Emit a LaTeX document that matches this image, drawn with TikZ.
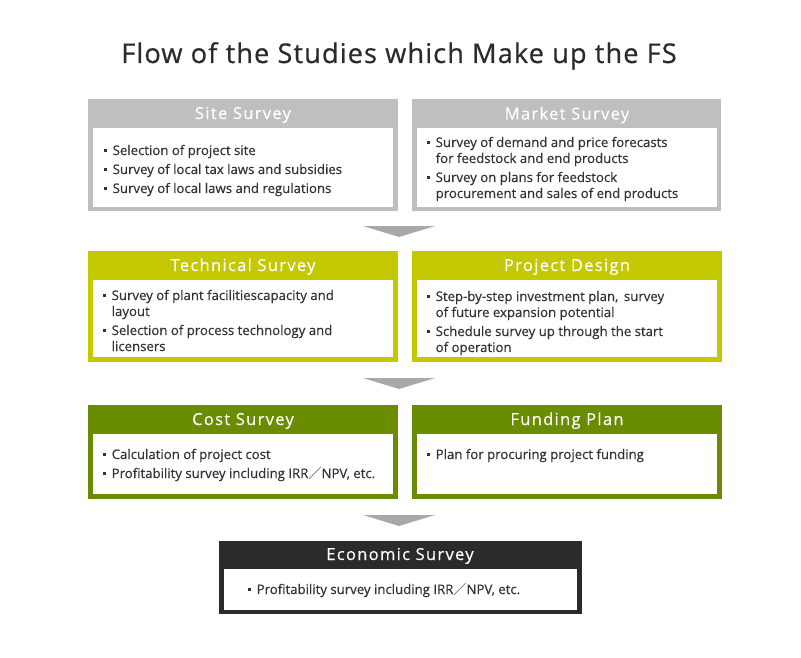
\documentclass[tikz,border=0pt]{standalone}
\usepackage{fontspec}
\setmainfont{Open Sans}[FakeBold=0.4]
\newfontfamily\hdfont[LetterSpace=8,FakeBold=0.4]{Open Sans}
\newfontfamily\ttlfont[LetterSpace=4,FakeBold=0.5]{Open Sans}
\newfontfamily\cjk{Noto Sans CJK JP}
\definecolor{txt}{HTML}{333333}
\definecolor{ttl}{HTML}{2B2B2B}
\definecolor{hgray}{HTML}{BFBFBF}
\definecolor{hlime}{HTML}{C4C800}
\definecolor{hgreen}{HTML}{6A8C00}
\definecolor{hdark}{HTML}{2B2B2B}
\definecolor{arrowc}{HTML}{A8A8A8}
\newcommand\bul{\makebox[8.5pt][l]{\raisebox{3pt}{\rule{2.7pt}{2.7pt}}}}
\newcommand\ind{\hspace*{8.5pt}}
\newcommand\slsh{{\cjk ／}}
\newcommand\bodytext[1]{\parbox[t]{290pt}{\fontsize{13.2}{16}\selectfont #1}}
\tikzset{
  outerbox/.style={fill=#1, draw=none, inner sep=0pt, anchor=north west},
  innerbox/.style={fill=white, draw=none, inner sep=0pt, anchor=north west},
  hdtext/.style={text=white, inner sep=0pt, anchor=base, font=\hdfont\fontsize{16.5}{18}\selectfont},
  bodynode/.style={inner sep=0pt, anchor=base west, text=txt},
  flowarrow/.style={fill=arrowc, draw=none}
}
\begin{document}
\begin{tikzpicture}[x=1pt,y=-1pt]
\fill[white] (0,0) rectangle (801,658);
\node[inner sep=0pt, anchor=base, text=ttl, font=\ttlfont\fontsize{27.2}{30}\selectfont] (title) at (399,63) {Flow of the Studies which Make up the FS};

% Row 1
\node[outerbox=hgray, minimum width=310pt, minimum height=112pt] (site) at (88,99) {};
\node[innerbox, minimum width=300pt, minimum height=79pt] (siteIn) at (93,128) {};
\node[hdtext] (siteH) at (243,119) {Site Survey};
\node[bodynode] (siteB) at (104,155) {\bodytext{\bul Selection of project site\\[3pt]\bul Survey of local tax laws and subsidies\\[3pt]\bul Survey of local laws and regulations}};

\node[outerbox=hgray, minimum width=309pt, minimum height=112pt] (market) at (412,99) {};
\node[innerbox, minimum width=300pt, minimum height=79pt] (marketIn) at (417,128) {};
\node[hdtext] (marketH) at (567,119.5) {Market Survey};
\node[bodynode] (marketB) at (427,147) {\bodytext{\bul Survey of demand and price forecasts\\\ind for feedstock and end products\\[3pt]\bul Survey on plans for feedstock\\\ind procurement and sales of end products}};

\fill[flowarrow] (363,226) -- (435,226) -- (399,237) -- cycle;

% Row 2
\node[outerbox=hlime, minimum width=310pt, minimum height=111pt] (tech) at (88,251) {};
\node[innerbox, minimum width=300pt, minimum height=77pt] (techIn) at (93,280) {};
\node[hdtext] (techH) at (243,271) {Technical Survey};
\node[bodynode] (techB) at (103,300) {\bodytext{\bul Survey of plant facilitiescapacity and\\\ind layout\\[3pt]\bul Selection of process technology and\\\ind licensers}};

\node[outerbox=hlime, minimum width=310pt, minimum height=111pt] (design) at (412,251) {};
\node[innerbox, minimum width=300pt, minimum height=77pt] (designIn) at (417,280) {};
\node[hdtext] (designH) at (567,271) {Project Design};
\node[bodynode] (designB) at (427,301) {\bodytext{\bul Step-by-step investment plan,\, survey\\\ind of future expansion potential\\[3pt]\bul Schedule survey up through the start\\\ind of operation}};

\fill[flowarrow] (363,378) -- (435,378) -- (399,389) -- cycle;

% Row 3
\node[outerbox=hgreen, minimum width=310pt, minimum height=94pt] (cost) at (88,405) {};
\node[innerbox, minimum width=300pt, minimum height=60pt] (costIn) at (93,434) {};
\node[hdtext] (costH) at (243,425) {Cost Survey};
\node[bodynode] (costB) at (103,459) {\bodytext{\bul Calculation of project cost\\[3pt]\bul Profitability survey including IRR\slsh NPV, etc.}};

\node[outerbox=hgreen, minimum width=310pt, minimum height=94pt] (fund) at (412,405) {};
\node[innerbox, minimum width=300pt, minimum height=60pt] (fundIn) at (417,434) {};
\node[hdtext] (fundH) at (567,425) {Funding Plan};
\node[bodynode] (fundB) at (427,459) {\bodytext{\bul Plan for procuring project funding}};

\fill[flowarrow] (363,515) -- (435,515) -- (399,526) -- cycle;

% Row 4
\node[outerbox=hdark, minimum width=363pt, minimum height=73pt] (econ) at (219,541) {};
\node[innerbox, minimum width=353pt, minimum height=41pt] (econIn) at (224,569) {};
\node[hdtext] (econH) at (400,560) {Economic Survey};
\node[bodynode] (econB) at (248,594) {\bodytext{\bul Profitability survey including IRR\slsh NPV, etc.}};
\end{tikzpicture}
\end{document}
